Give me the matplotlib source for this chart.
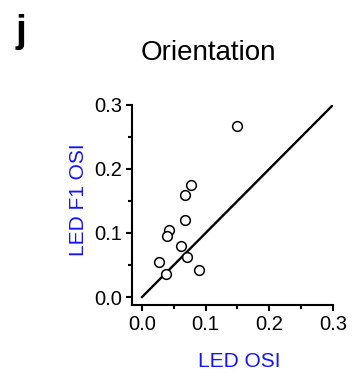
import numpy as np
import matplotlib.pyplot as plt
from matplotlib.ticker import MultipleLocator

plt.rcParams['font.family'] = ['Liberation Sans', 'DejaVu Sans']

# LED OSI vs LED F1 OSI per cell
led_osi = [0.150, 0.077, 0.067, 0.068, 0.042, 0.039, 0.061, 0.071, 0.027, 0.038, 0.089]
led_f1_osi = [0.267, 0.175, 0.160, 0.121, 0.105, 0.095, 0.080, 0.063, 0.054, 0.036, 0.042]
unity = [0.0, 0.3]
ticks = [0.0, 0.1, 0.2, 0.3]

fig = plt.figure(figsize=(3.55, 3.72), dpi=100)
ax = fig.add_axes([0.372, 0.180, 0.566, 0.538])

ax.plot(unity, unity, color='black', lw=1.7, zorder=1)
ax.plot(led_osi, led_f1_osi, 'o', mfc='white', mec='black', mew=1.1, ms=7, zorder=2)

ax.set_xlim(-0.0156, 0.3)
ax.set_ylim(-0.0125, 0.3)
ax.set_xticks(ticks)
ax.set_yticks(ticks)
ax.set_xticklabels(['0.0', '0.1', '0.2', '0.3'])
ax.set_yticklabels(['0.0', '0.1', '0.2', '0.3'])
ax.xaxis.set_minor_locator(MultipleLocator(0.05))
ax.yaxis.set_minor_locator(MultipleLocator(0.05))
ax.tick_params(which='major', length=4, width=1.5, labelsize=14.5, pad=3)
ax.tick_params(which='minor', length=3, width=1.5)

for s in ['top', 'right']:
    ax.spines[s].set_visible(False)
for s in ['left', 'bottom']:
    ax.spines[s].set_linewidth(1.5)

ax.set_xlabel('LED OSI', color='#1414ff', fontsize=15)
ax.set_ylabel('LED F1 OSI', color='#1414ff', fontsize=15)
ax.xaxis.set_label_coords(0.532, -0.235)
ax.yaxis.set_label_coords(-0.218, 0.525)

fig.text(0.587, 0.857, 'Orientation', fontsize=20, ha='center', va='center')
fig.text(0.058, 0.915, 'j', fontsize=28, fontweight='bold', ha='center', va='center')

fig.savefig('out.png', dpi=100)
